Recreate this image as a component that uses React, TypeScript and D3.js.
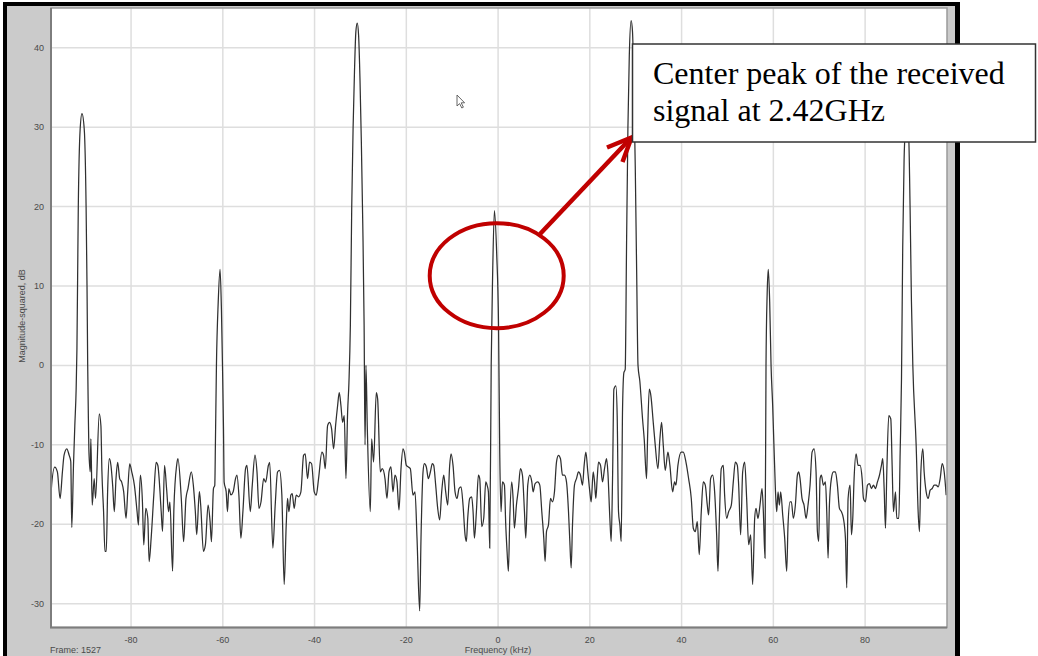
import React, { useEffect, useRef } from 'react'
import * as d3 from 'd3'

// spectrum trace, [frequency kHz, magnitude-squared dB]
const traceFarLeft: [number, number][] = [
  [-97.66, -18.4], [-97.52, -16.75], [-96.64, -12.8], [-96.06, -13.4], [-95.47, -16.75], [-94.96, -13.4],
  [-94.6, -11.3], [-94.01, -10.5], [-93.5, -11.3], [-93.14, -12.1], [-92.92, -20.4], [-92.55, -12.6],
  [-92.26, -7.6], [-91.97, -3], [-91.8, 2], [-91.5, 20], [-91.1, 29.7], [-90.7, 31.7], [-90.2, 29.7],
  [-89.8, 20], [-89.6, 10], [-89.45, 0], [-89.34, -5], [-89.2, -10.5], [-88.9, -13.4], [-88.76, -9.25],
  [-88.47, -17.6], [-88.03, -14.25], [-87.74, -16.75], [-86.93, -6.1], [-86.57, -7.6], [-86.35, -13.4],
  [-85.99, -18.4], [-85.69, -23.4], [-85.4, -23.4], [-85.11, -15.9], [-84.74, -11.75], [-84.38, -12.6],
  [-84.01, -15.1], [-83.65, -18.4], [-83.28, -14.25], [-82.92, -12.2], [-82.48, -14.25], [-82.04, -14.7],
  [-81.61, -15.9], [-81.09, -19.25], [-80.73, -15.9], [-80.29, -12.4], [-79.85, -13.4], [-79.27, -15.1],
  [-78.69, -18.4], [-78.39, -20.1], [-78.18, -16.3], [-77.96, -13.8], [-77.52, -17.2], [-77.23, -22.6],
  [-76.79, -18.0], [-76.35, -19.25], [-76.06, -24.7], [-75.62, -21.75], [-75.04, -16.3], [-74.53, -12.2],
  [-74.16, -12.6], [-73.43, -18.4], [-73.14, -20.9], [-72.7, -12.6], [-72.26, -15.5], [-71.82, -18.4],
  [-71.53, -17.2], [-70.95, -25.9], [-70.66, -18.0], [-70.07, -12.6], [-69.78, -11.75], [-69.05, -16.75],
  [-68.54, -22.2], [-68.03, -16.75], [-67.59, -15.5], [-66.86, -13.4], [-66.42, -15.1], [-65.99, -18.4],
  [-65.69, -21.3], [-65.11, -15.9], [-64.82, -17.6], [-64.23, -23.4], [-63.8, -22.6], [-63.21, -17.6],
  [-62.77, -19.7], [-62.48, -22.2], [-62.04, -15.5], [-61.75, -15.1], [-61.61, -9.7], [-61.39, 0],
  [-61.0, 8], [-60.6, 12.1], [-60.3, 7], [-60.07, 0], [-59.85, -8], [-59.71, -14.7], [-59.27, -15.9],
  [-58.98, -18.4], [-58.69, -15.5], [-58.25, -16.3], [-57.74, -15.9], [-57.23, -14.25], [-56.93, -13.8],
  [-56.5, -16.3], [-56.06, -21.75], [-55.62, -18.4], [-55.04, -13.0], [-54.74, -12.6], [-54.01, -18.4],
  [-53.58, -15.1], [-52.99, -11.3], [-52.55, -13.4], [-52.12, -18.0], [-51.68, -17.2], [-51.09, -14.25],
  [-50.66, -14.7], [-50.07, -12.6], [-49.78, -12.2],
]

const traceMidLeft: [number, number][] = [
  [-49.09, -23.0], [-48.58, -17.58], [-48.07, -13.42], [-47.64, -13.21], [-47.13, -16.33], [-46.62, -27.58],
  [-46.18, -20.08], [-45.89, -16.75], [-45.6, -18.42], [-45.16, -16.33], [-44.87, -16.13], [-44.44, -18.0],
  [-44.0, -16.33], [-43.49, -16.54], [-42.98, -15.92], [-42.4, -11.33], [-42.04, -11.13], [-41.53, -14.25],
  [-41.09, -12.17], [-40.65, -12.38], [-40.07, -15.92], [-39.64, -16.33], [-39.13, -14.25], [-38.4, -10.92],
  [-38.04, -11.33], [-37.67, -13.0], [-37.16, -7.58], [-36.73, -7.17], [-36.29, -8.0], [-35.85, -10.5],
  [-35.42, -7.58], [-34.98, -5.08], [-34.62, -3.42], [-34.25, -5.08], [-33.89, -7.17], [-33.53, -6.33],
  [-33.16, -14.25], [-32.8, -5.92], [-32.51, -2.17], [-32.2, 5], [-31.9, 20], [-31.6, 30], [-31.3, 37],
  [-31.0, 42], [-30.7, 43.1], [-30.4, 41.5], [-30.1, 36], [-29.8, 28], [-29.5, 18], [-29.2, 5], [-29.0, -10],
  [-28.8, 0], [-28.5, -8], [-27.85, -18.4], [-27.56, -9.25], [-27.13, -12.17], [-26.55, -3.42], [-26.25, -4.25],
  [-25.67, -13.42], [-25.24, -13.0], [-24.65, -14.25], [-24.22, -16.75], [-23.78, -13.42], [-23.35, -12.79],
  [-22.91, -15.92], [-22.47, -13.83], [-22.04, -14.67], [-21.6, -18.21], [-21.16, -13.0], [-20.73, -10.5],
  [-20.44, -10.92], [-20.0, -12.58], [-19.56, -12.79], [-19.13, -13.0], [-18.55, -16.33], [-18.11, -15.92],
  [-17.67, -21.75], [-17.09, -30.92], [-16.8, -21.75], [-16.36, -13.42], [-16.07, -12.38], [-15.64, -12.79],
  [-15.2, -14.25], [-14.76, -13.42], [-14.33, -12.38], [-14.04, -12.58], [-13.6, -15.08], [-13.16, -18.0],
  [-12.73, -19.46], [-12.29, -15.92], [-11.85, -13.83], [-11.42, -15.92], [-10.98, -17.58], [-10.55, -12.58],
  [-10.25, -11.13], [-9.82, -12.58], [-9.38, -15.92], [-8.95, -16.75], [-8.51, -15.5], [-8.07, -15.29],
  [-7.64, -17.58], [-7.2, -21.33], [-6.91, -22.17], [-6.62, -19.25], [-6.18, -16.75], [-5.75, -16.54],
  [-5.45, -18.42], [-5.16, -21.75], [-4.73, -18.42], [-4.29, -13.83], [-4.0, -14.25], [-3.56, -20.29],
  [-3.13, -19.25], [-2.69, -14.67], [-2.4, -15.08], [-2.11, -15.92], [-1.82, -23.0],
]

// the carrier at 2.42 GHz
const traceCentre: [number, number][] = [
  [-1.5, 0], [-1.2, 11], [-0.8, 19.5], [-0.3, 14], [0.1, 5], [0.36, -10.92],
]

const traceMidRight: [number, number][] = [
  [0.65, -18.42], [0.95, -14.67], [1.38, -15.08], [1.67, -20.08], [1.96, -23.42], [2.25, -25.92],
  [2.55, -19.25], [2.98, -14.67], [3.27, -16.75], [3.56, -20.5], [4.0, -17.58], [4.44, -15.5], [4.87, -13.0],
  [5.31, -13.83], [5.75, -18.42], [6.04, -21.75], [6.47, -15.08], [6.91, -13.83], [7.35, -14.67],
  [7.64, -15.92], [8.07, -14.88], [8.65, -14.67], [9.09, -15.08], [9.53, -18.42], [9.96, -21.75],
  [10.25, -24.67], [10.55, -20.92], [10.98, -20.08], [11.42, -16.75], [11.85, -17.17], [12.29, -15.92],
  [12.73, -12.17], [13.16, -11.33], [13.6, -11.75], [14.04, -13.83], [14.47, -13.83], [14.91, -14.67],
  [15.35, -18.42], [15.64, -22.17], [15.93, -25.5], [16.22, -20.08], [16.65, -15.08], [17.09, -14.25],
  [17.53, -13.42], [17.96, -13.83], [18.4, -15.08], [18.76, -12.58], [19.13, -10.92], [19.56, -13.42],
  [20.0, -15.92], [20.29, -17.17], [20.73, -13.42], [21.02, -14.67], [21.31, -16.75], [21.6, -14.25],
  [21.89, -12.17], [22.33, -12.58], [22.76, -14.67], [23.2, -13.0], [23.64, -11.75], [23.93, -13.42],
  [24.36, -19.25], [24.65, -22.17], [24.95, -14.25], [25.24, -3.0], [25.67, -2.58], [25.96, -6.33],
  [26.25, -18.42], [26.55, -20.08], [26.84, -22.17], [27.13, -5.5], [27.42, -0.92], [27.71, -0.5],
  [28.0, 15], [28.3, 30], [28.6, 39], [29.0, 43.4], [29.3, 42], [29.6, 35], [29.9, 25], [30.2, 12],
  [30.5, 0], [30.9, -2], [31.49, -6.75], [31.85, -9.25], [32.36, -14.25], [32.58, -9.25], [32.95, -3.0],
  [33.31, -3.83], [33.82, -7.17], [34.25, -10.0], [34.84, -13.0], [35.27, -9.25], [35.64, -7.17],
  [36.0, -10.0], [36.44, -13.21], [37.02, -10.92], [37.45, -12.58], [38.04, -15.92], [38.47, -14.67],
  [38.76, -15.08], [39.2, -12.58], [39.93, -10.92], [40.36, -10.92], [40.95, -12.17], [41.53, -14.25],
  [42.11, -16.75], [42.55, -20.5], [42.98, -20.92], [43.42, -19.67], [43.85, -23.83], [44.29, -18.42],
  [44.73, -14.67], [45.16, -15.08], [45.6, -17.58], [45.89, -18.83], [46.33, -14.25], [46.76, -13.83],
  [47.2, -15.92], [47.64, -21.33], [47.93, -25.92], [48.22, -19.67], [48.65, -13.0], [49.09, -12.58],
]

const traceFarRight: [number, number][] = [
  [49.38, -16.33], [49.82, -19.25], [50.25, -18.42], [50.84, -17.58], [51.27, -14.67], [51.71, -12.17],
  [52.15, -12.58], [52.44, -15.08], [52.87, -21.33], [53.31, -13.42], [53.75, -12.17], [54.18, -16.75],
  [54.62, -22.58], [55.05, -21.33], [55.49, -27.58], [55.93, -19.25], [56.22, -18.0], [56.65, -19.25],
  [57.09, -17.58], [57.53, -15.5], [57.82, -18.42], [58.18, -24.25], [58.4, 0], [58.65, 9], [58.9, 12.1],
  [59.2, 8], [59.5, 0], [59.85, -5], [60.44, -15.5], [60.73, -18.42], [61.02, -15.92], [61.31, -17.58],
  [61.6, -15.92], [62.04, -18.83], [62.47, -21.75], [62.91, -25.92], [63.2, -20.08], [63.64, -17.17],
  [63.93, -17.17], [64.36, -19.25], [64.8, -17.58], [65.24, -13.83], [65.53, -13.42], [65.82, -14.25],
  [66.25, -16.75], [66.69, -17.58], [67.13, -19.25], [67.56, -17.58], [68.0, -15.08], [68.44, -10.92],
  [68.87, -10.5], [69.31, -13.42], [69.6, -20.92], [69.89, -22.17], [70.18, -14.25], [70.47, -13.83],
  [70.91, -15.08], [71.35, -14.67], [71.64, -18.42], [71.93, -24.25], [72.22, -17.58], [72.65, -14.25],
  [73.09, -13.42], [73.53, -13.42], [73.96, -15.08], [74.4, -18.0], [74.84, -18.42], [75.27, -19.25],
  [75.71, -21.75], [76.0, -28.0], [76.29, -16.75], [76.73, -15.08], [77.02, -21.33], [77.31, -19.25],
  [77.6, -14.25], [78.04, -11.13], [78.47, -12.58], [78.91, -12.58], [79.35, -14.25], [79.64, -16.75],
  [80.07, -17.17], [80.51, -15.08], [80.95, -14.88], [81.38, -15.5], [81.82, -15.08], [82.25, -15.5],
  [82.69, -14.67], [83.13, -13.83], [83.56, -12.58], [83.85, -11.75], [84.15, -15.5], [84.44, -20.5],
  [84.73, -13.42], [85.16, -6.33], [85.6, -6.75], [85.89, -12.58], [86.18, -18.42], [86.62, -15.92],
  [86.91, -19.25], [87.35, -19.25], [87.64, -10.92], [87.93, -1.75], [88.2, 15], [88.5, 26], [88.8, 30],
  [89.1, 31.5], [89.5, 29], [89.8, 20], [90.1, 8], [90.4, 0], [91.13, -10.08], [91.56, -18.42],
  [91.85, -20.92], [92.15, -13.42], [92.58, -10.5], [92.87, -13.42], [93.31, -15.92], [93.75, -16.75],
  [94.18, -15.71], [94.62, -15.5], [95.05, -15.08], [95.49, -15.08], [95.93, -15.29], [96.36, -14.25],
  [96.8, -12.38], [97.24, -13.42], [97.67, -16.33],
]

const xTicks = [-80, -60, -40, -20, 0, 20, 40, 60, 80]
const yTicks = [-30, -20, -10, 0, 10, 20, 30, 40]
const noteLines = ['Center peak of the received', 'signal at 2.42GHz']
const frameLabel = 'Frame: 1527'
const xTitle = 'Frequency (kHz)'
const yTitle = 'Magnitude-squared, dB'
// where the red circle sits on the trace
const markedPeak: [number, number] = [-0.3, 11.3]

const W = 1038
const H = 656

export default function App() {
  const ref = useRef<SVGSVGElement>(null)

  useEffect(() => {
    const svg = d3.select(ref.current)
    svg.selectAll('*').remove()

    const plot = { left: 51, right: 947, top: 8, bottom: 627.5 }

    const x = d3.scaleLinear().domain([-97.45, 97.85]).range([plot.left, plot.right])
    const y = d3.scaleLinear().domain([-33, 45]).range([plot.bottom, plot.top])

    // window frame: grey panel with black edges
    svg.append('rect').attr('x', 7).attr('y', 6).attr('width', 948).attr('height', 650).attr('fill', '#cbcbcb')
    svg.append('rect').attr('x', 3).attr('y', 2).attr('width', 4).attr('height', 654).attr('fill', '#000')
    svg.append('rect').attr('x', 3).attr('y', 2).attr('width', 957).attr('height', 4).attr('fill', '#000')
    svg.append('rect').attr('x', 955).attr('y', 2).attr('width', 5).attr('height', 654).attr('fill', '#000')

    svg.append('rect')
      .attr('x', plot.left).attr('y', plot.top)
      .attr('width', plot.right - plot.left).attr('height', plot.bottom - plot.top)
      .attr('fill', '#fff')

    const defs = svg.append('defs')
    defs.append('clipPath').attr('id', 'plotClip')
      .append('rect')
      .attr('x', plot.left).attr('y', plot.top)
      .attr('width', plot.right - plot.left).attr('height', plot.bottom - plot.top)

    // grid
    const grid = svg.append('g').attr('stroke', '#dedede').attr('stroke-width', 1.5)
    grid.selectAll('line.v').data(xTicks).enter().append('line')
      .attr('x1', d => x(d)).attr('x2', d => x(d))
      .attr('y1', plot.top).attr('y2', plot.bottom)
    grid.selectAll('line.h').data(yTicks).enter().append('line')
      .attr('x1', plot.left).attr('x2', plot.right)
      .attr('y1', d => y(d)).attr('y2', d => y(d))

    // trace
    const trace = [...traceFarLeft, ...traceMidLeft, ...traceCentre, ...traceMidRight, ...traceFarRight]
    const line = d3.line<[number, number]>()
      .x(d => x(d[0]))
      .y(d => y(d[1]))
      .curve(d3.curveMonotoneX)

    svg.append('path')
      .datum(trace)
      .attr('clip-path', 'url(#plotClip)')
      .attr('d', line)
      .attr('fill', 'none')
      .attr('stroke', '#303030')
      .attr('stroke-width', 1.25)

    // plot border
    svg.append('rect')
      .attr('x', plot.left).attr('y', plot.top)
      .attr('width', plot.right - plot.left).attr('height', plot.bottom - plot.top)
      .attr('fill', 'none').attr('stroke', '#9a9a9a').attr('stroke-width', 1.5)
    svg.append('path')
      .attr('d', `M${plot.left},${plot.top}V${plot.bottom}H${plot.right}`)
      .attr('fill', 'none').attr('stroke', '#7d7d7d').attr('stroke-width', 2)

    // tick labels
    const labels = svg.append('g')
      .attr('font-family', '"Liberation Sans", Arial, sans-serif')
      .attr('font-size', 9)
      .attr('fill', '#4a4a4a')

    labels.selectAll('text.y').data(yTicks).enter().append('text')
      .attr('x', plot.left - 7)
      .attr('y', d => y(d) + 3)
      .attr('text-anchor', 'end')
      .text(d => d)

    labels.selectAll('text.x').data(xTicks).enter().append('text')
      .attr('x', d => x(d))
      .attr('y', 643)
      .attr('text-anchor', 'middle')
      .text(d => d)

    labels.append('text').attr('x', 50).attr('y', 653).text(frameLabel)
    labels.append('text').attr('x', x(0)).attr('y', 653).attr('text-anchor', 'middle').text(xTitle)
    labels.append('text')
      .attr('transform', 'translate(25,316) rotate(-90)')
      .attr('text-anchor', 'middle')
      .text(yTitle)

    // mouse pointer left in the screenshot
    svg.append('path')
      .attr('d', 'M457,95 L457,106 L459.6,103.6 L461.8,108 L463.4,107.2 L461.2,102.8 L464.6,102.8 Z')
      .attr('fill', '#fff').attr('stroke', '#555').attr('stroke-width', 0.9)

    // annotation: circle round the centre peak and an arrow to the note
    const red = '#c00000'
    const cx = x(markedPeak[0])
    const cy = y(markedPeak[1])
    svg.append('ellipse')
      .attr('cx', cx).attr('cy', cy).attr('rx', 67).attr('ry', 52.5)
      .attr('fill', 'none').attr('stroke', red).attr('stroke-width', 4)

    const tip: [number, number] = [631.5, 137.5]
    svg.append('line')
      .attr('x1', 540).attr('y1', 234).attr('x2', tip[0] - 2).attr('y2', tip[1] + 2)
      .attr('stroke', red).attr('stroke-width', 4.5)
    svg.append('path')
      .attr('d', `M607,147.5 L${tip[0]},${tip[1]} L622.5,162`)
      .attr('fill', 'none').attr('stroke', red).attr('stroke-width', 4.5)
      .attr('stroke-linejoin', 'miter').attr('stroke-linecap', 'butt')

    const note = svg.append('g')
    note.append('rect')
      .attr('x', 632.5).attr('y', 44).attr('width', 403).attr('height', 98)
      .attr('fill', '#fff').attr('stroke', '#333').attr('stroke-width', 1.5)
    note.selectAll('text').data(noteLines).enter().append('text')
      .attr('x', 653)
      .attr('y', (d, i) => 84 + i * 37)
      .attr('font-family', '"Liberation Serif", "Times New Roman", serif')
      .attr('font-size', 32)
      .attr('fill', '#000')
      .text(d => d)
  }, [])

  return (
    <svg
      ref={ref}
      width={W}
      height={H}
      style={{ position: 'absolute', left: 0, top: 0, background: '#fff' }}
    />
  )
}
